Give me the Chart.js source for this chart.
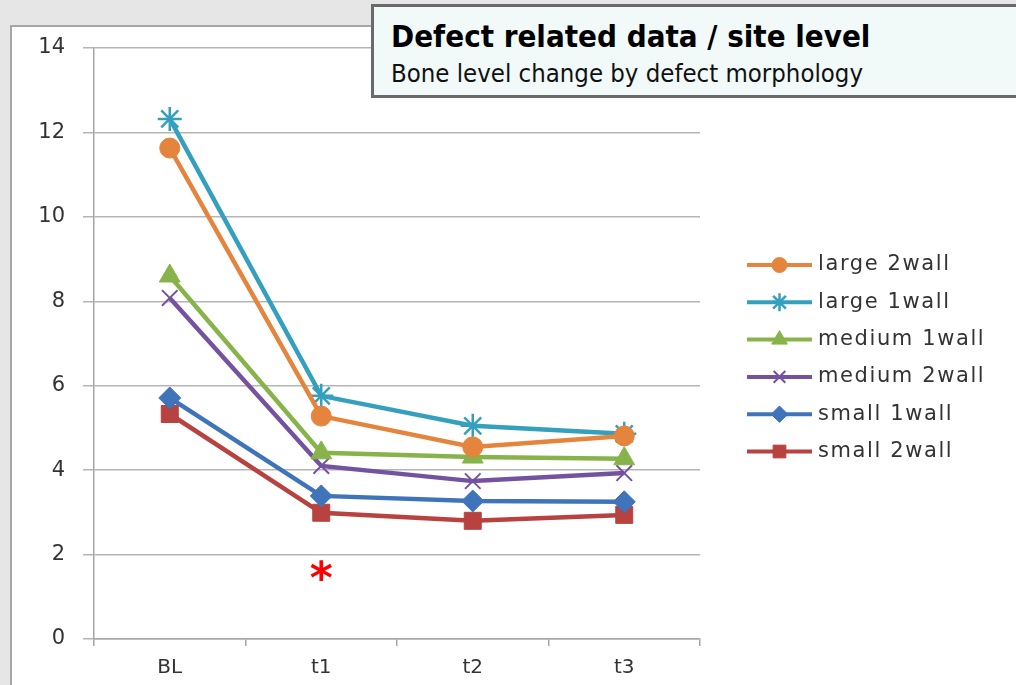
<!doctype html>
<html>
<head>
    <title>Defect related data / site level</title>
    <script src="https://cdn.jsdelivr.net/npm/chart.js@4.4.0/dist/chart.umd.min.js"></script>
    <style>
    body { margin: 0; background: #e6e6e6; }
    #wrap { position: relative; width: 1016px; height: 685px; overflow: hidden; }
    #panel {
        position: absolute; left: 10px; top: 25px; width: 1020px; height: 680px;
        background: #fff; border: 2px solid #a6a6a6;
    }
    #canvas { position: absolute; left: 0; top: 0; }
    #titleBox {
        position: absolute; left: 371px; top: 4px; width: 650px; height: 88px;
        background: #f1f9f9; border: 3px solid #6a6a6a; box-sizing: content-box;
    }
    #titleBox .t1 {
        position: absolute; left: 17px; top: 11px; font: bold 31px "DejaVu Sans Condensed", sans-serif; color: #000;
        white-space: nowrap;
    }
    #titleBox .t2 {
        position: absolute; left: 17px; top: 51px; font: 25.5px "DejaVu Sans Condensed", sans-serif; color: #111;
        white-space: nowrap;
    }
    </style>
</head>
<body>
<div id="wrap">
    <div id="panel"></div>
    <canvas id="canvas" width="1016" height="685"></canvas>
    <div id="titleBox">
        <div class="t1">Defect related data / site level</div>
        <div class="t2">Bone level change by defect morphology</div>
    </div>
</div>
<script>
var timepoints = ["BL", "t1", "t2", "t3"];
var yTicks = [0, 2, 4, 6, 8, 10, 12, 14];

var large2wall  = [11.63, 5.28, 4.55, 4.81];
var large1wall  = [12.32, 5.76, 5.05, 4.86];
var medium1wall = [8.60, 4.41, 4.31, 4.27];
var medium2wall = [8.08, 4.10, 3.74, 3.93];
var small1wall  = [5.71, 3.39, 3.27, 3.25];
var small2wall  = [5.33, 2.99, 2.80, 2.94];

// significance mark under t1
var starAt = { label: "t1", value: 1.55 };

function series(label, data, color, style, radius, bw) {
    return {
        label: label,
        data: data,
        borderColor: color,
        backgroundColor: color,
        borderWidth: 4.5,
        pointStyle: style,
        pointRadius: radius,
        pointBorderWidth: bw,
        pointBackgroundColor: color,
        pointBorderColor: color,
        tension: 0
    };
}

var datasets = [
    series("large 2wall", large2wall, "#e5843c", "circle", 10, 1),
    series("large 1wall", large1wall, "#34a0bd", "star", 12, 2.5),
    series("medium 1wall", medium1wall, "#87b34a", "triangle", 12, 1),
    series("medium 2wall", medium2wall, "#7552a0", "crossRot", 11, 2),
    series("small 1wall", small1wall, "#3f74bb", "rectRot", 11, 1),
    series("small 2wall", small2wall, "#b8423f", "rect", 12, 1)
];

var sideLegend = {
    id: 'sideLegend',
    afterDraw: function(chart) {
        var ctx = chart.ctx;
        var x0 = 747, x1 = 812, y = 265, step = 37.3;
        ctx.save();
        chart.data.datasets.forEach(function(ds, i) {
            var yy = y + i * step;
            ctx.strokeStyle = ds.borderColor;
            ctx.lineWidth = 4;
            ctx.beginPath();
            ctx.moveTo(x0, yy);
            ctx.lineTo(x1, yy);
            ctx.stroke();
            ctx.fillStyle = ds.pointBackgroundColor;
            ctx.strokeStyle = ds.pointBorderColor;
            ctx.lineWidth = ds.pointBorderWidth;
            Chart.helpers.drawPoint(ctx, {
                pointStyle: ds.pointStyle,
                radius: ds.pointRadius * 0.75,
                rotation: 0,
                borderWidth: ds.pointBorderWidth
            }, (x0 + x1) / 2, yy);
            ctx.fillStyle = "#333";
            ctx.font = "21px 'DejaVu Sans'";
            ctx.textBaseline = "middle";
            ctx.letterSpacing = "1.6px";
            ctx.fillText(ds.label, 818, yy);
        });
        ctx.restore();

        // red asterisk
        var sx = chart.scales.x.getPixelForValue(timepoints.indexOf(starAt.label));
        var sy = chart.scales.y.getPixelForValue(starAt.value);
        ctx.save();
        ctx.fillStyle = "#ff0000";
        ctx.font = "bold 44px 'DejaVu Sans'";
        ctx.textAlign = "center";
        ctx.textBaseline = "middle";
        ctx.fillText("*", sx, sy + 8);
        ctx.restore();
    }
};

var config = {
    type: 'line',
    data: {
        labels: timepoints,
        datasets: datasets
    },
    options: {
        responsive: false,
        animation: false,
        layout: {
            padding: { left: 0, right: 316, top: 48, bottom: 0 }
        },
        plugins: {
            legend: { display: false },
            title: { display: false },
            tooltip: { enabled: false }
        },
        scales: {
            x: {
                offset: true,
                grid: {
                    display: true,
                    drawOnChartArea: false,
                    offset: true,
                    tickLength: 7,
                    color: "#a6a6a6",
                    lineWidth: 1.5
                },
                border: { color: "#a6a6a6", width: 1.5 },
                ticks: {
                    color: "#333",
                    font: { family: "DejaVu Sans", size: 20 },
                    padding: 10
                },
                afterFit: function(scale) { scale.height = 46; }
            },
            y: {
                min: 0,
                max: 14,
                afterBuildTicks: function(scale) {
                    scale.ticks = yTicks.map(function(v) { return { value: v }; });
                },
                grid: {
                    color: "#b5b5b5",
                    lineWidth: 1.5,
                    tickLength: 11
                },
                border: { color: "#a6a6a6", width: 1.5 },
                ticks: {
                    color: "#333",
                    font: { family: "DejaVu Sans", size: 21 },
                    padding: 18
                },
                afterFit: function(scale) { scale.width = 94; }
            }
        }
    },
    plugins: [sideLegend]
};

window.onload = function() {
    window.myLine = new Chart(document.getElementById("canvas"), config);
};
</script>
</body>
</html>
